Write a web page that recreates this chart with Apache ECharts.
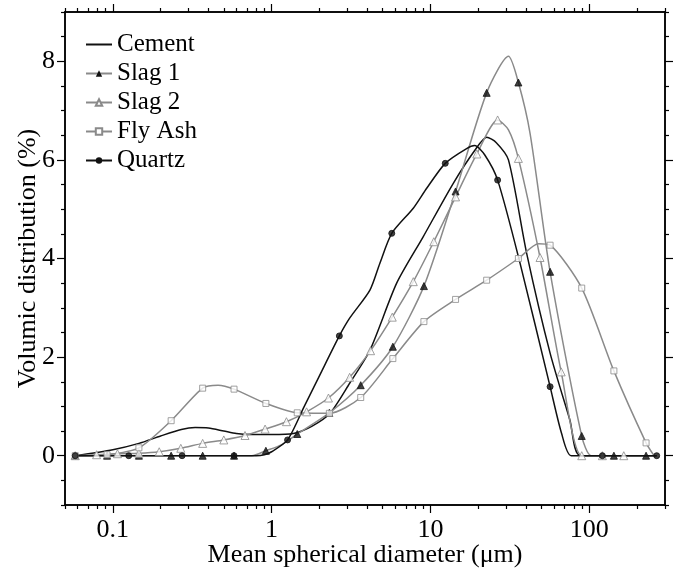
<!DOCTYPE html>
<html><head><meta charset="utf-8">
<script src="https://cdn.jsdelivr.net/npm/echarts@6/dist/echarts.min.js"></script>
<style>html,body{margin:0;padding:0;background:#fff}#c{width:673px;height:573px}</style>
</head><body><div id="c"></div>
<script>
// ---- tick values ----
const xMajorTicks = [0.1, 1, 10, 100];
const xMinorTicks = [0.05,0.06,0.07,0.08,0.09,0.2,0.3,0.4,0.5,0.6,0.7,0.8,0.9,2,3,4,5,6,7,8,9,20,30,40,50,60,70,80,90,200,300];
const yMajorTicks = [0, 2, 4, 6, 8];
const yMinorTicks = [-1,-0.5,0.5,1,1.5,2.5,3,3.5,4.5,5,5.5,6.5,7,7.5,8.5,9];

// ---- series: [diameter (um), volumic %] ----
const cementLine = [[0.058,0],[0.1,0.12],[0.146,0.25],[0.2,0.4],[0.27,0.53],[0.33,0.57],[0.4,0.56],[0.5,0.5],[0.6,0.45],[0.73,0.43],[1.0,0.43],[1.37,0.45],[1.8,0.6],[2.33,0.86],[3.1,1.47],[4.16,2.14],[6.13,3.5],[9.0,4.44],[13.9,5.52],[19.1,6.2],[22.6,6.46],[26,6.35],[31,6.0],[40.4,4.1],[56.7,2.08],[75.6,0.72],[88,0],[266,0]];

const slag1Marks = [[0.058,0],[0.092,0],[0.146,0],[0.233,0],[0.368,0],[0.58,0],[0.92,0.1],[1.45,0.44],[2.31,0.87],[3.64,1.43],[5.8,2.21],[9.1,3.44],[14.4,5.36],[22.6,7.36],[35.8,7.57],[56.7,3.73],[89.7,0.4],[143,0],[228,0]];
const slag1Extra = [[0.75,0],[1.15,0.22],[31,8.1],[42.4,6.54],[103,0]];

const slag2Marks = [[0.058,0],[0.079,0.02],[0.107,0.04],[0.146,0.05],[0.196,0.08],[0.268,0.15],[0.368,0.25],[0.5,0.32],[0.68,0.41],[0.91,0.54],[1.24,0.69],[1.66,0.89],[2.28,1.17],[3.1,1.59],[4.2,2.13],[5.75,2.81],[7.8,3.53],[10.5,4.34],[14.4,5.25],[19.6,6.12],[26.5,6.81],[35.8,6.03],[49,4.02],[66.6,1.7],[89.7,0],[121,0],[165,0]];
const slag2Extra = [[31,6.61]];

const flyAshMarks = [[0.058,0],[0.092,0.02],[0.146,0.16],[0.233,0.71],[0.368,1.37],[0.58,1.35],[0.92,1.06],[1.45,0.87],[2.31,0.86],[3.64,1.18],[5.8,1.97],[9.1,2.72],[14.4,3.17],[22.6,3.56],[35.8,4.0],[56.7,4.27],[89.7,3.4],[143,1.72],[228,0.26]];
const flyAshExtra = [[0.46,1.43],[48,4.3],[256,0]];

const quartzMarks = [[0.058,0],[0.126,0],[0.273,0],[0.58,0],[1.26,0.32],[2.67,2.43],[5.71,4.51],[12.4,5.93],[26.5,5.59],[56.7,1.4],[121,0],[266,0]];
const quartzExtra = [[0.8,0],[0.9,0.02],[1.0,0.08],[1.6,0.99],[2.0,1.62],[3.1,2.79],[4.16,3.36],[4.8,3.9],[7.8,5.02],[9.5,5.43],[16.9,6.23],[19,6.29],[22,6.1],[36.7,3.9],[67,0.45],[77,0]];

const names = ['Cement','Slag 1','Slag 2','Fly Ash','Quartz'];

function merge(a, b) { return a.concat(b).sort((p, q) => p[0] - q[0]); }

const FONT = 'Liberation Serif';
const GRAY = '#8a8a8a';
const BLACK = '#111';

function xAx(pos, ticks, len, labels) {
  return {
    type: 'log', logBase: 10, min: 0.05, max: 300, position: pos,
    axisLine: { show: true, onZero: false, lineStyle: { color: '#000', width: 1.5 } },
    axisTick: { show: true, customValues: ticks, length: len, lineStyle: { color: '#000', width: 1.2 } },
    axisLabel: labels ? { show: true, customValues: xMajorTicks, margin: 12, fontFamily: FONT, fontSize: 26, color: '#000',
      formatter: v => String(+Number(v).toPrecision(6)) } : { show: false },
    splitLine: { show: false }, minorTick: { show: false }
  };
}
function yAx(pos, ticks, len, labels) {
  return {
    type: 'value', min: -1, max: 9, position: pos,
    axisLine: { show: true, onZero: false, lineStyle: { color: '#000', width: 1.5 } },
    axisTick: { show: true, customValues: ticks, length: len, lineStyle: { color: '#000', width: 1.2 } },
    axisLabel: labels ? { show: true, customValues: yMajorTicks, margin: 10, fontFamily: FONT, fontSize: 26, color: '#000' } : { show: false },
    splitLine: { show: false }
  };
}

const xBottom = xAx('bottom', xMajorTicks, 8, true);
xBottom.name = 'Mean spherical diameter (\u03bcm)';
xBottom.nameLocation = 'middle';
xBottom.nameGap = 37;
xBottom.nameMoveOverlap = false;
xBottom.nameTextStyle = { fontFamily: FONT, fontSize: 26, color: '#000' };

const yLeft = yAx('left', yMajorTicks, 8, true);
yLeft.name = 'Volumic distribution (%)';
yLeft.nameLocation = 'middle';
yLeft.nameGap = 24;
yLeft.nameMoveOverlap = false;
yLeft.nameTextStyle = { fontFamily: FONT, fontSize: 26, color: '#000' };

function lineSeries(name, data, color, symbol, symColor) {
  return { name, type: 'line', data, xAxisIndex: 0, yAxisIndex: 0, showSymbol: false, symbol,
    smooth: 0.25, lineStyle: { color, width: 1.5 }, itemStyle: { color: symColor }, z: 3, animation: false };
}
function markSeries(name, data, symbol, size, fill, stroke) {
  return { name, type: 'scatter', data, xAxisIndex: 0, yAxisIndex: 0, symbol, symbolSize: size,
    itemStyle: { color: fill, borderColor: stroke, borderWidth: 1 }, z: 4, animation: false, silent: true };
}

const option = {
  backgroundColor: '#fff',
  animation: false,
  grid: { left: 65, right: 8, top: 12, bottom: 68, containLabel: false, outerBoundsMode: 'none' },
  xAxis: [xBottom, xAx('bottom', xMinorTicks, 4, false), xAx('top', xMajorTicks, 8, false), xAx('top', xMinorTicks, 4, false)],
  yAxis: [yLeft, yAx('left', yMinorTicks, 4, false), yAx('right', yMajorTicks, 8, false), yAx('right', yMinorTicks, 4, false)],
  legend: {
    orient: 'vertical', left: 80, top: 27, itemWidth: 26, itemHeight: 8, itemGap: 4,
    textStyle: { fontFamily: FONT, fontSize: 25, color: '#000' },
    data: [
      { name: names[0], itemStyle: { opacity: 0 } },
      { name: names[1] }, { name: names[2] }, { name: names[3] }, { name: names[4] }
    ]
  },
  series: [
    lineSeries(names[0], cementLine, BLACK, 'circle', BLACK),
    lineSeries(names[1], merge(slag1Marks, slag1Extra), GRAY, 'triangle', BLACK),
    lineSeries(names[2], merge(slag2Marks, slag2Extra), GRAY, 'emptyTriangle', GRAY),
    lineSeries(names[3], merge(flyAshMarks, flyAshExtra), GRAY, 'emptyRect', GRAY),
    lineSeries(names[4], merge(quartzMarks, quartzExtra), BLACK, 'circle', BLACK),
    markSeries('m1', slag1Marks, 'triangle', 7, BLACK, BLACK),
    markSeries('m2', slag2Marks, 'triangle', 8, '#fff', GRAY),
    markSeries('m3', flyAshMarks, 'rect', 6, '#fff', GRAY),
    markSeries('m4', quartzMarks, 'circle', 6, BLACK, BLACK)
  ]
};
const chart = echarts.init(document.getElementById('c'), null, { renderer: 'canvas' });
chart.setOption(option);
</script></body></html>
